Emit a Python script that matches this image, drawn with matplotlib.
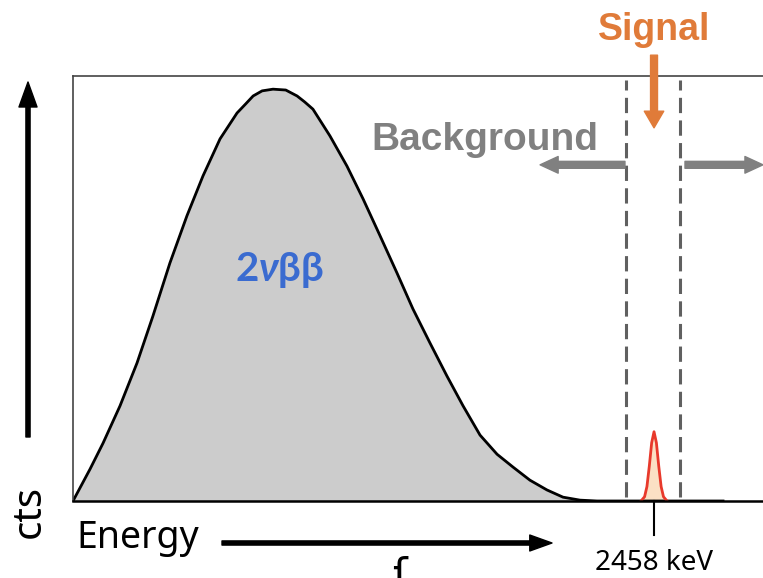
import matplotlib.pyplot as plt

# 2vbb spectrum (energy in keV, counts in arbitrary units)
energy = [0, 72, 127, 199, 271, 338, 410, 482, 550, 622, 694, 730, 762, 800, 846, 900, 948,
          980, 1015, 1087, 1159, 1227, 1299, 1371, 1438, 1510, 1582, 1650, 1722, 1794, 1861,
          1933, 2005, 2073, 2145, 2217, 2400, 2600, 2750]
counts = [0, 0.075, 0.136, 0.224, 0.325, 0.435, 0.560, 0.671, 0.765, 0.852, 0.913, 0.934,
          0.953, 0.965, 0.969, 0.967, 0.953, 0.939, 0.922, 0.859, 0.788, 0.711, 0.624, 0.536,
          0.452, 0.372, 0.294, 0.224, 0.155, 0.110, 0.080, 0.049, 0.026, 0.009, 0.002, 0, 0, 0, 0]

# signal peak at Q value
sig_energy = [2403, 2418, 2428, 2438, 2448, 2458, 2468, 2478, 2488, 2498, 2513]
sig_counts = [0, 0.01, 0.034, 0.082, 0.137, 0.163, 0.137, 0.082, 0.034, 0.01, 0]
q_value = 2458
roi = [2339, 2568]

W, H = 763, 578


def fx(px):
    return px / W


def fy(py):
    return 1 - py / H


plt.rcParams['mathtext.fontset'] = 'custom'
plt.rcParams['mathtext.it'] = 'Lato:italic:bold'

fig = plt.figure(figsize=(W / 100, H / 100), dpi=100)
ax = fig.add_axes([fx(73), fy(501), fx(763) - fx(73), fy(76) - fy(501)])
ax.set_xlim(0, 2919)
ax.set_ylim(0, 1)
ax.set_xticks([])
ax.set_yticks([])
ax.spines['right'].set_visible(False)
for s in ['top', 'left']:
    ax.spines[s].set_color('#444444')
    ax.spines[s].set_linewidth(1.2)
ax.spines['bottom'].set_color('black')
ax.spines['bottom'].set_linewidth(1.8)

ax.fill_between(energy, counts, color='#cccccc', lw=0)
ax.plot(energy, counts, color='black', lw=2, solid_joinstyle='round')

ax.fill_between(sig_energy, sig_counts, color='#fbe0c4', lw=0)
ax.plot(sig_energy, sig_counts, color='#e8392b', lw=2)

for x in roi:
    ax.plot([x, x], [0.01, 0.99], color='#606060', lw=2.2, dashes=(5, 2.4))

# signal arrow + label
ax.annotate('', xy=(q_value, 0.878), xytext=(q_value, 1.049), annotation_clip=False,
            arrowprops=dict(color='#e07b39', width=5, headwidth=14, headlength=12, shrink=0))
ax.text(q_value, 1.085, 'Signal', ha='center', va='baseline', fontsize=27,
        fontweight='bold', color='#e07b39', family='Liberation Sans', clip_on=False)

# background arrows + label
ax.text(1743, 0.826, 'Background', ha='center', va='baseline', fontsize=28,
        fontweight='bold', color='#808080', family='Liberation Sans')
ax.annotate('', xy=(1976, 0.791), xytext=(2335, 0.791), annotation_clip=False,
            arrowprops=dict(color='#808080', width=5, headwidth=12, headlength=13, shrink=0))
ax.annotate('', xy=(2919, 0.791), xytext=(2589, 0.791), annotation_clip=False,
            arrowprops=dict(color='#808080', width=5, headwidth=12, headlength=13, shrink=0))

ax.text(876, 0.544, '2$\\nu$ββ', ha='center', va='center', fontsize=29,
        fontweight='bold', color='#3a6bd0', family='Lato')

# Q value tick
ax.plot([q_value, q_value], [0, -0.08], color='black', lw=1.5, clip_on=False)
ax.text(q_value, -0.146, '2458 keV', ha='center', va='center', fontsize=20,
        family='Noto Sans', clip_on=False)

# axis arrows
ax.annotate('', xy=(552, H - 543), xytext=(222, H - 543), xycoords='figure pixels',
            annotation_clip=False,
            arrowprops=dict(color='black', width=3, headwidth=11.5, headlength=16, shrink=0))
ax.annotate('', xy=(28, H - 82), xytext=(28, H - 437), xycoords='figure pixels',
            annotation_clip=False,
            arrowprops=dict(color='black', width=3, headwidth=13, headlength=18, shrink=0))

fig.text(fx(76), fy(548), 'Energy', va='baseline', ha='left', fontsize=27, family='Noto Sans')
fig.text(fx(30), fy(511), 'cts', rotation=90, va='center', ha='center', fontsize=29,
         family='Noto Sans')
fig.text(fx(392), fy(556), 'ſ', va='top', ha='left', fontsize=30, family='DejaVu Sans')

fig.savefig('out.png', dpi=100)
